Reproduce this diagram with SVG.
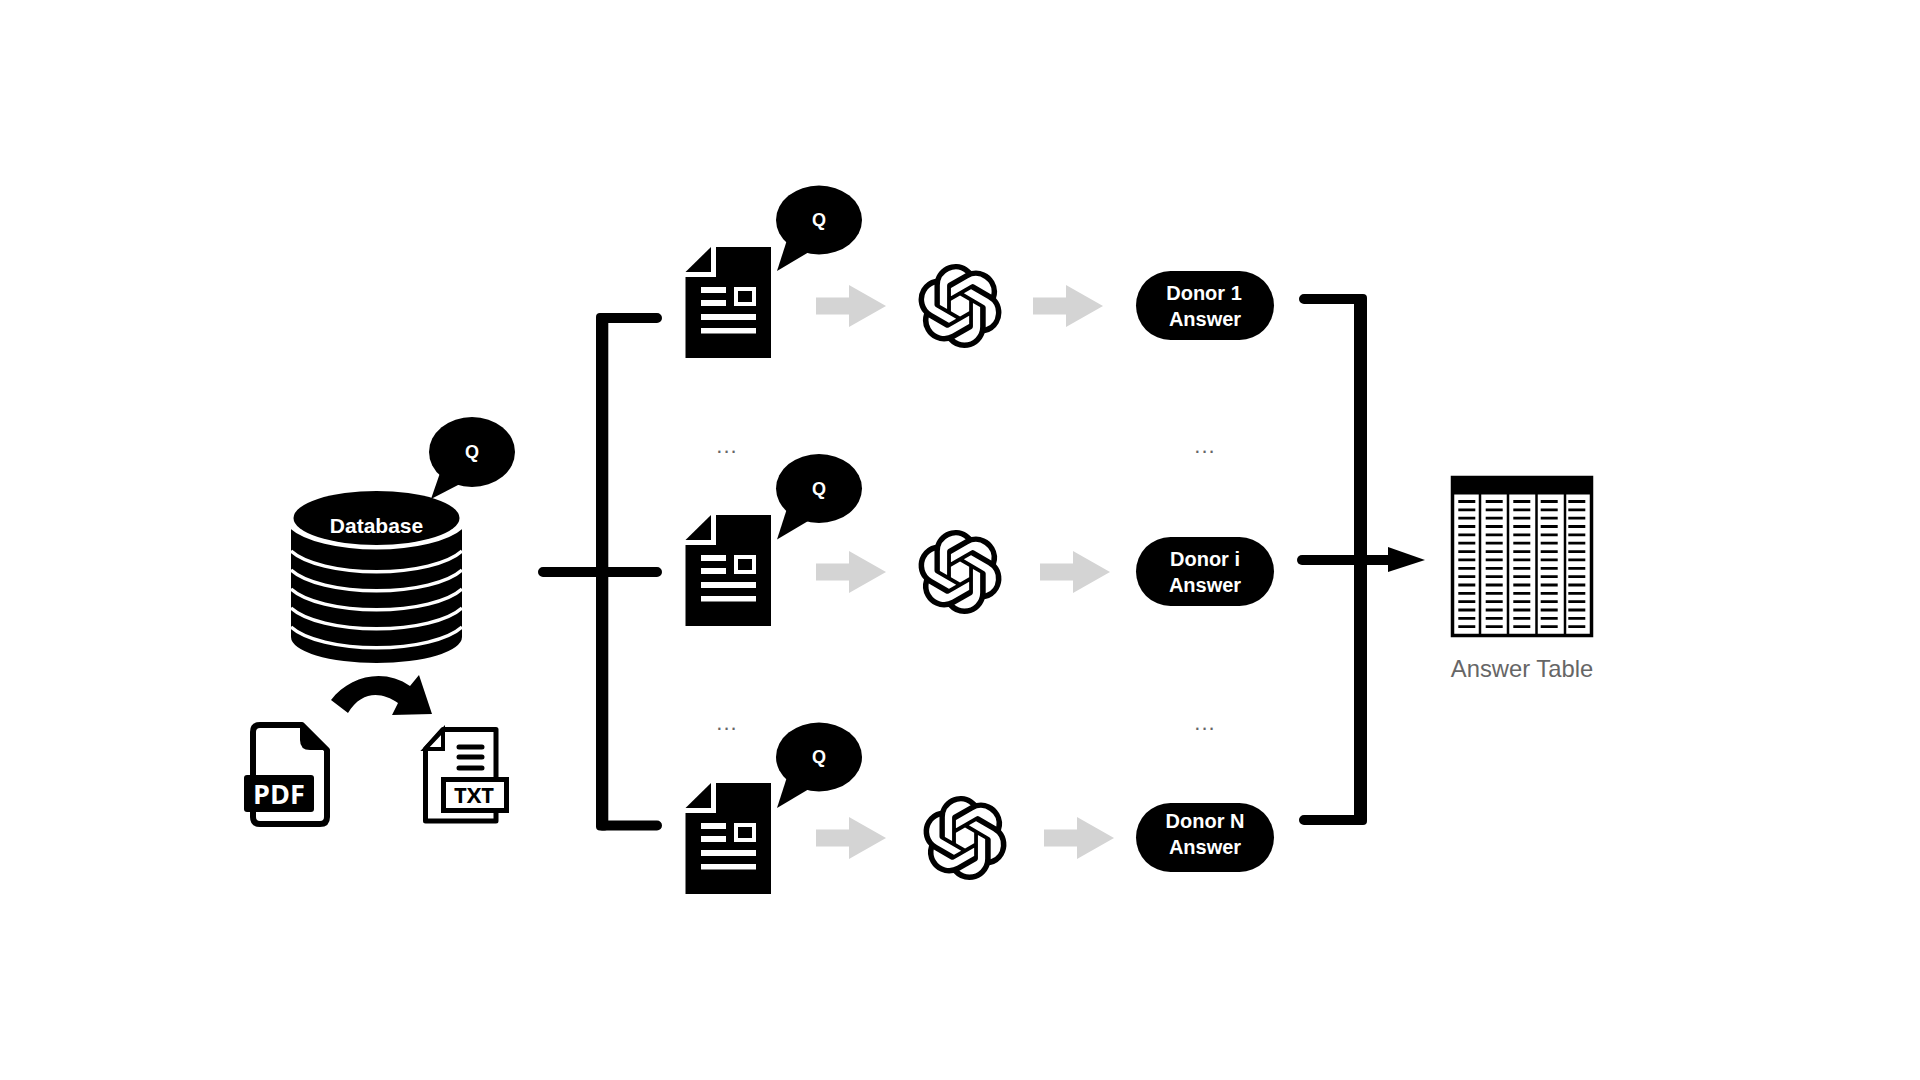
<svg xmlns="http://www.w3.org/2000/svg" xmlns:xlink="http://www.w3.org/1999/xlink" width="1920" height="1080" viewBox="0 0 1920 1080">
<style>
text{font-family:"Liberation Sans",Arial,sans-serif}
.w{fill:#fff;font-weight:700;font-size:20px;text-anchor:middle}
.q{fill:#fff;font-weight:700;font-size:18px;text-anchor:middle}
.dots{fill:#666;font-size:22px;text-anchor:middle;letter-spacing:1px}
.conn{fill:none;stroke:#000;stroke-width:10;stroke-linecap:round;stroke-linejoin:round}
.band{fill:none;stroke:#fff;stroke-width:3.500}
.wl{fill:#fff}
</style>
<defs>
<path id="gray" d="M0,-8.500H33V-21L70,0L33,21V8.500H0Z" fill="#d4d4d4"/>
<g id="doc">
<path d="M716,247H771V358H685.500V277H716Z"/>
<path d="M685.500,272L711,247V272Z"/>
<rect class="wl" x="701" y="287" width="25" height="6"/>
<rect class="wl" x="701" y="300" width="25" height="6"/>
<rect class="wl" x="701" y="314" width="55" height="6"/>
<rect class="wl" x="701" y="328" width="55" height="5.500"/>
<rect x="736" y="289" width="18" height="15" fill="none" stroke="#fff" stroke-width="4"/>
</g>
<g id="bubble">
<ellipse cx="819" cy="220" rx="43" ry="34.500"/>
<path d="M787,240L777,271L809,252Z"/>
<text class="q" x="819" y="226">Q</text>
</g>
<path id="logo" transform="scale(3.500) translate(-12,-12)" d="M22.2819 9.8211a5.9847 5.9847 0 0 0-.5157-4.9108 6.0462 6.0462 0 0 0-6.5098-2.9A6.0651 6.0651 0 0 0 4.9807 4.1818a5.9847 5.9847 0 0 0-3.9977 2.9 6.0462 6.0462 0 0 0 .7427 7.0966 5.98 5.98 0 0 0 .511 4.9107 6.051 6.051 0 0 0 6.5146 2.9001A5.9847 5.9847 0 0 0 13.2599 24a6.0557 6.0557 0 0 0 5.7718-4.2058 5.9894 5.9894 0 0 0 3.9977-2.9001 6.0557 6.0557 0 0 0-.7475-7.0729zm-9.022 12.6081a4.4755 4.4755 0 0 1-2.8764-1.0408l.1419-.0804 4.7783-2.7582a.7948.7948 0 0 0 .3927-.6813v-6.7369l2.02 1.1686a.071.071 0 0 1 .038.052v5.5826a4.504 4.504 0 0 1-4.4945 4.4944zm-9.6607-4.1254a4.4708 4.4708 0 0 1-.5346-3.0137l.142.0852 4.783 2.7582a.7712.7712 0 0 0 .7806 0l5.8428-3.3685v2.3324a.0804.0804 0 0 1-.0332.0615L9.74 19.9502a4.4992 4.4992 0 0 1-6.1408-1.6464zM2.3408 7.8956a4.485 4.485 0 0 1 2.3655-1.9728V11.6a.7664.7664 0 0 0 .3879.6765l5.8144 3.3543-2.0201 1.1685a.0757.0757 0 0 1-.071 0l-4.8303-2.7865A4.504 4.504 0 0 1 2.3408 7.872zm16.5963 3.8558L13.1038 8.364 15.1192 7.2a.0757.0757 0 0 1 .071 0l4.8303 2.7913a4.4944 4.4944 0 0 1-.6765 8.1042v-5.6772a.79.79 0 0 0-.407-.667zm2.0107-3.0231l-.142-.0852-4.7735-2.7818a.7759.7759 0 0 0-.7854 0L9.409 9.2297V6.8974a.0662.0662 0 0 1 .0284-.0615l4.8303-2.7866a4.4992 4.4992 0 0 1 6.6802 4.66zM8.3065 12.863l-2.02-1.1638a.0804.0804 0 0 1-.038-.0567V6.0742a4.4992 4.4992 0 0 1 7.3757-3.4537l-.142.0805L8.704 5.459a.7948.7948 0 0 0-.3927.6813zm1.0976-2.3654l2.602-1.4998 2.6069 1.4998v2.9994l-2.5974 1.4997-2.6067-1.4997Z"/>
<g id="dashcol">
<path stroke="#000" stroke-width="2.800" fill="none" d="M0,501.500h17M0,509.800h17M0,518.200h17M0,526.500h17M0,534.900h17M0,543.200h17M0,551.600h17M0,559.900h17M0,568.300h17M0,576.600h17M0,585h17M0,593.300h17M0,601.700h17M0,610h17M0,618.400h17M0,626.700h17"/>
</g>
</defs>
<g id="connectors">
<path class="conn" d="M602,318H657M602,825.500H657M543,572H657"/>
<rect x="596" y="313" width="12.300" height="517.500" rx="4"/>
<path class="conn" d="M1304,299H1360M1304,820H1360"/>
<rect x="1354" y="294" width="13" height="531" rx="4"/>
<path class="conn" d="M1302,560H1390"/>
<path d="M1388,547L1425,560L1388,572Z"/>
<use xlink:href="#gray" href="#gray" transform="translate(816,306)"/>
<use xlink:href="#gray" href="#gray" transform="translate(816,572)"/>
<use xlink:href="#gray" href="#gray" transform="translate(816,838)"/>
<use xlink:href="#gray" href="#gray" transform="translate(1033,306)"/>
<use xlink:href="#gray" href="#gray" transform="translate(1040,572)"/>
<use xlink:href="#gray" href="#gray" transform="translate(1044,838)"/>
<path d="M331,700C350,675 385,668 410,686L419,675L432,714L392,715L398,703C382,692 362,690 348,713Z"/>
</g>
<g id="database">
<path d="M291,527A92,33 0 0 0 462,527V637A85.500,26 0 0 1 291,637Z"/>
<ellipse cx="376.500" cy="518" rx="83" ry="27"/>
<path class="band" d="M291,551A92,33 0 0 0 462,551"/>
<path class="band" d="M291,570A92,33 0 0 0 462,570"/>
<path class="band" d="M291,589A92,33 0 0 0 462,589"/>
<path class="band" d="M291,608A92,33 0 0 0 462,608"/>
<path class="band" d="M291,627A92,33 0 0 0 462,627"/>
<path class="band" d="M291,527A92,33 0 0 0 462,527"/>
<text class="w" x="376.500" y="533" style="font-size:21px">Database</text>
</g>
<g id="db-question">
<ellipse cx="472" cy="452" rx="43" ry="35"/>
<path d="M440,473L431,499L460,484Z"/>
<text class="q" x="472" y="458">Q</text>
</g>
<g id="pdf">
<path d="M260,725H302L327,750V817Q327,824 320,824H260Q253,824 253,817V732Q253,725 260,725Z" fill="#fff" stroke="#000" stroke-width="6" stroke-linejoin="round"/>
<path d="M300,724V740Q300,750 310,750H328Z"/>
<rect x="244" y="775" width="70" height="37" rx="3"/>
<text x="279" y="804" fill="#fff" font-size="27" font-weight="700" text-anchor="middle" style="font-family:'Open Sans',sans-serif">PDF</text>
</g>
<g id="txt">
<path d="M443,729.500H496V821H425.500V749Z" fill="#fff" stroke="#000" stroke-width="5" stroke-linejoin="round"/>
<path d="M443,730V749H425Z" fill="#fff" stroke="#000" stroke-width="4"/>
<path d="M459,747H482M459,757H482M459,768H482" stroke="#000" stroke-width="5" stroke-linecap="round"/>
<rect x="443.500" y="779.500" width="63" height="31" fill="#fff" stroke="#000" stroke-width="5"/>
<text x="474" y="803" fill="#000" font-size="22" font-weight="700" text-anchor="middle" style="font-family:'Open Sans',sans-serif">TXT</text>
</g>
<g id="doc-1"><use xlink:href="#doc" href="#doc"/><use xlink:href="#bubble" href="#bubble"/></g>
<g id="doc-i"><use xlink:href="#doc" href="#doc" y="268"/><use xlink:href="#bubble" href="#bubble" y="268.500"/></g>
<g id="doc-n"><use xlink:href="#doc" href="#doc" y="536"/><use xlink:href="#bubble" href="#bubble" y="537"/></g>
<g id="llm-1" transform="translate(960,306)"><use xlink:href="#logo" href="#logo"/></g>
<g id="llm-i" transform="translate(960,572)"><use xlink:href="#logo" href="#logo"/></g>
<g id="llm-n" transform="translate(965,838)"><use xlink:href="#logo" href="#logo"/></g>
<g id="donor-1"><rect x="1136" y="271" width="138" height="69" rx="34.500"/><text class="w" x="1204" y="300">Donor 1</text><text class="w" x="1205" y="326">Answer</text></g>
<g id="donor-i"><rect x="1136" y="537" width="138" height="69" rx="34.500"/><text class="w" x="1205" y="566">Donor i</text><text class="w" x="1205" y="592">Answer</text></g>
<g id="donor-n"><rect x="1136" y="803" width="138" height="69" rx="34.500"/><text class="w" x="1205" y="828">Donor N</text><text class="w" x="1205" y="854">Answer</text></g>
<text class="dots" x="727" y="453">...</text>
<text class="dots" x="1205" y="453">...</text>
<text class="dots" x="727" y="730">...</text>
<text class="dots" x="1205" y="730">...</text>
<g id="answer-table">
<rect x="1452.500" y="477.500" width="139" height="158" fill="#fff" stroke="#000" stroke-width="3.500"/>
<rect x="1451" y="476" width="142" height="18.500"/>
<path d="M1480,494V636M1508,494V636M1536.500,494V636M1565,494V636" stroke="#000" stroke-width="2.500"/>
<use xlink:href="#dashcol" href="#dashcol" transform="translate(1458.300,0)"/>
<use xlink:href="#dashcol" href="#dashcol" transform="translate(1485.700,0)"/>
<use xlink:href="#dashcol" href="#dashcol" transform="translate(1513.300,0)"/>
<use xlink:href="#dashcol" href="#dashcol" transform="translate(1540.700,0)"/>
<use xlink:href="#dashcol" href="#dashcol" transform="translate(1568.300,0)"/>
<text x="1522" y="677" fill="#666" font-size="23.800" text-anchor="middle">Answer Table</text>
</g>
</svg>
